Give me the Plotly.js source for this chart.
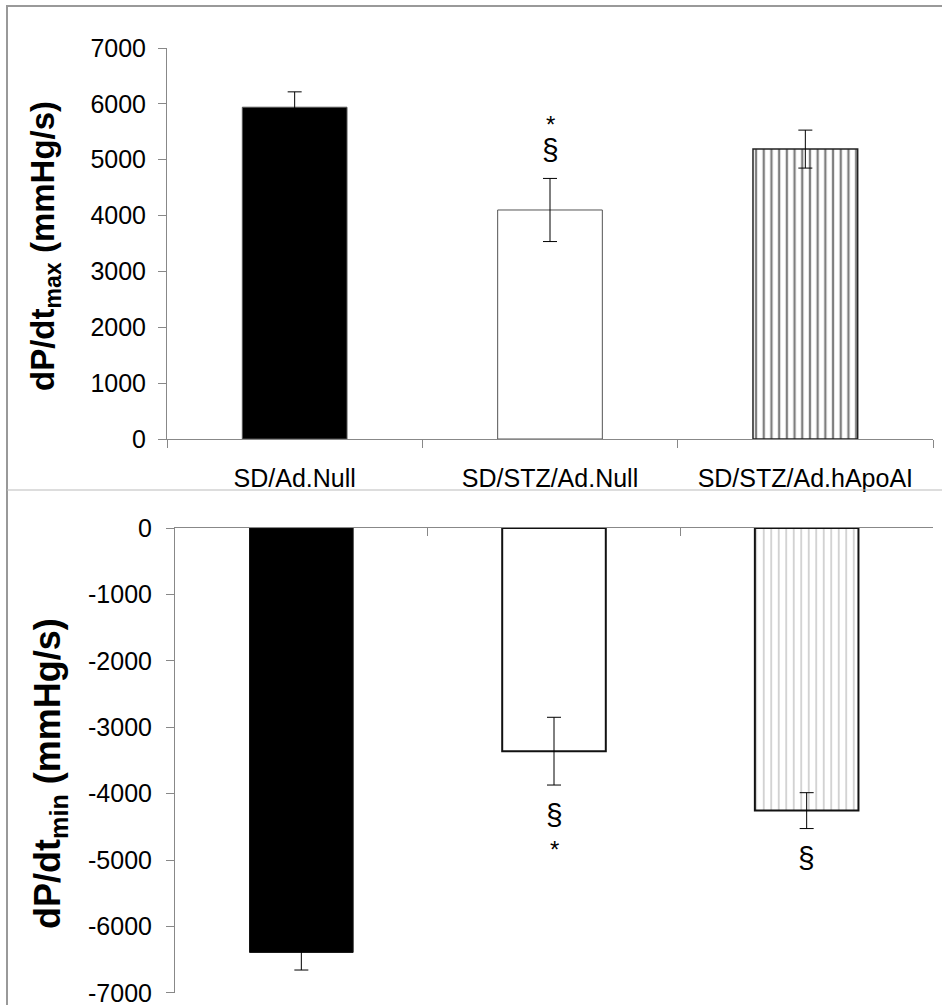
<!DOCTYPE html>
<html>
<head>
<meta charset="utf-8">
<script src="https://cdn.plot.ly/plotly-3.0.1.min.js"></script>
<style>html,body{margin:0;padding:0;background:#fff;}#chart{width:942px;height:1005px;}</style>
</head>
<body>
<div id="chart"></div>
<script>
// ---- data ----
var categories = ["SD/Ad.Null", "SD/STZ/Ad.Null", "SD/STZ/Ad.hApoAI"];
var maxValues = [5940, 4100, 5190];
var maxErrors = [275, 565, 340];
var minValues = [-6390, -3360, -4255];
var minErrors = [265, 510, 270];
var yTicksTop = [0, 1000, 2000, 3000, 4000, 5000, 6000, 7000];
var yTicksBottom = [-7000, -6000, -5000, -4000, -3000, -2000, -1000, 0];
var yTickTextBottom = ["-7000", "-6000", "-5000", "-4000", "-3000", "-2000", "-1000", "0"];
var topTitle = "dP/dt<sub>max</sub> (mmHg/s)";
var bottomTitle = "dP/dt<sub>min</sub> (mmHg/s)";
// significance marks: [category index, text lines ordered away from bar]
var topMarks = [[1, ["§", "*"]]];
var bottomMarks = [[1, ["§", "*"]], [2, ["§"]]];

var W = 942, H = 1005;
var FONT = "Liberation Sans, Arial, sans-serif";

// per-bar styles (top panel / bottom panel)
var topStyles = [
  {color: "#000000", line: "#555555", lw: 1, shape: "", fg: "#000000"},
  {color: "#ffffff", line: "#555555", lw: 1, shape: "", fg: "#000000"},
  {color: "#ffffff", line: "#222222", lw: 1.5, shape: "|", fg: "#000000"}
];
var bottomStyles = [
  {color: "#000000", line: "#111111", lw: 1, shape: "", fg: "#000000"},
  {color: "#ffffff", line: "#111111", lw: 2, shape: "", fg: "#000000"},
  {color: "#ffffff", line: "#111111", lw: 2, shape: "|", fg: "#9a9a9a"}
];

function makeTraces(values, errors, styles, xa, ya, psize, psol) {
  return categories.map(function (c, i) {
    var s = styles[i];
    var marker = {color: s.color, line: {color: s.line, width: s.lw}};
    if (s.shape) {
      marker.pattern = {shape: s.shape, fgcolor: s.fg, bgcolor: s.color, size: psize, solidity: psol, fillmode: "overlay"};
    }
    return {
      type: "bar", x: [c], y: [values[i]], xaxis: xa, yaxis: ya,
      marker: marker,
      error_y: {type: "data", array: [errors[i]], visible: true, color: "#000000", thickness: 1, width: 7},
      hoverinfo: "none", showlegend: false
    };
  });
}

var traces = makeTraces(maxValues, maxErrors, topStyles, "x", "y", 7.7, 0.3)
  .concat(makeTraces(minValues, minErrors, bottomStyles, "x2", "y2", 7.5, 0.22));

function px2x(p) { return p / W; }
function px2y(p) { return 1 - p / H; }

var annotations = [];
topMarks.forEach(function (m) {
  var i = m[0];
  m[1].forEach(function (t, k) {
    annotations.push({
      xref: "x", yref: "y", x: categories[i], y: maxValues[i] + maxErrors[i],
      text: t, showarrow: false, yshift: k === 0 ? 29 : 54, xanchor: "center", yanchor: "middle",
      font: {family: FONT, size: k === 0 ? 30 : 24, color: "#000"}
    });
  });
});
bottomMarks.forEach(function (m) {
  var i = m[0];
  m[1].forEach(function (t, k) {
    annotations.push({
      xref: "x2", yref: "y2", x: categories[i], y: minValues[i] - minErrors[i],
      text: t, showarrow: false, yshift: k === 0 ? -29 : -64, xanchor: "center", yanchor: "middle",
      font: {family: FONT, size: k === 0 ? 30 : 24, color: "#000"}
    });
  });
});
annotations.push({
  xref: "paper", yref: "paper", x: px2x(45), y: px2y(246), textangle: -90,
  text: "<b>" + topTitle + "</b>", showarrow: false, xanchor: "center", yanchor: "middle",
  font: {family: FONT, size: 33, color: "#000"}
});
annotations.push({
  xref: "paper", yref: "paper", x: px2x(50), y: px2y(774), textangle: -90,
  text: "<b>" + bottomTitle + "</b>", showarrow: false, xanchor: "center", yanchor: "middle",
  font: {family: FONT, size: 36, color: "#000"}
});

var axisCommon = {showgrid: false, zeroline: false, showline: true, linecolor: "#888888", linewidth: 1,
  tickcolor: "#888888", tickwidth: 1, fixedrange: true, ticklabeloverflow: "allow"};

var layout = {
  width: W, height: H,
  margin: {l: 0, r: 0, t: 0, b: 0},
  paper_bgcolor: "#ffffff", plot_bgcolor: "rgba(0,0,0,0)",
  showlegend: false,
  barmode: "overlay",
  bargap: 0.59,
  font: {family: FONT, color: "#000"},
  xaxis: Object.assign({}, axisCommon, {
    domain: [px2x(167), px2x(933)], anchor: "y", type: "category",
    range: [-0.5, 2.5], ticks: "outside", ticklen: 8, tickson: "boundaries",
    tickfont: {family: FONT, size: 25, color: "#000"}, ticklabelstandoff: 17
  }),
  yaxis: Object.assign({}, axisCommon, {
    domain: [px2y(439), px2y(48)], anchor: "x", range: [0, 7000],
    tickvals: yTicksTop, ticks: "outside", ticklen: 8,
    tickfont: {family: FONT, size: 25, color: "#000"}, ticklabelstandoff: 7
  }),
  xaxis2: Object.assign({}, axisCommon, {
    domain: [px2x(175), px2x(933)], anchor: "y2", side: "top", type: "category",
    range: [-0.5, 2.5], ticks: "inside", ticklen: 8, tickson: "boundaries", showticklabels: false
  }),
  yaxis2: Object.assign({}, axisCommon, {
    domain: [px2y(993), px2y(528)], anchor: "x2", range: [-7001, 0],
    tickvals: yTicksBottom, ticktext: yTickTextBottom, ticks: "outside", ticklen: 8,
    tickfont: {family: FONT, size: 25, color: "#000"}, ticklabelstandoff: 9
  }),
  annotations: annotations,
  shapes: [
    {type: "line", xref: "paper", yref: "paper", x0: px2x(7), x1: px2x(7), y0: 0, y1: px2y(6), line: {color: "#999999", width: 2}},
    {type: "line", xref: "paper", yref: "paper", x0: px2x(6), x1: 1, y0: px2y(6), y1: px2y(6), line: {color: "#999999", width: 2}},
    {type: "line", xref: "paper", yref: "paper", x0: px2x(7), x1: 1, y0: px2y(490), y1: px2y(490), line: {color: "#bbbbbb", width: 1}}
  ]
};

Plotly.newPlot("chart", traces, layout, {displayModeBar: false, staticPlot: true});
</script>
</body>
</html>
